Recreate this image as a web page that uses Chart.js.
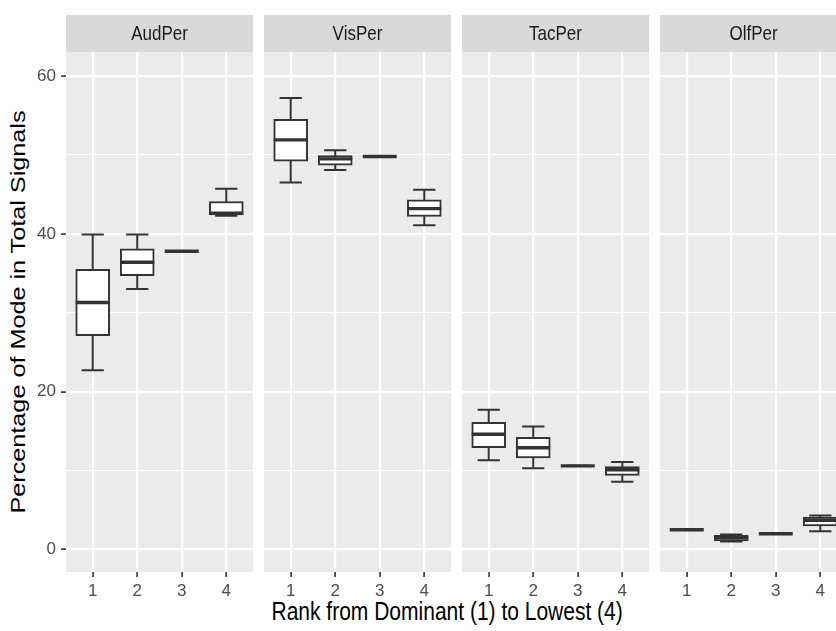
<!DOCTYPE html>
<html>
<head>
<meta charset="utf-8">
<script src="https://cdn.jsdelivr.net/npm/chart.js@4.4.0/dist/chart.umd.min.js"></script>
<style>
  html, body { margin: 0; padding: 0; background: #fff; overflow: hidden; width: 836px; height: 631px; }
  body { position: relative; font-family: "Liberation Sans", Arial, sans-serif; }
  canvas, .strip, .axis-title { position: absolute; }
  .strip { top: 15px; height: 37px; line-height: 37px; background: #D9D9D9; color: #1A1A1A; font-size: 17px; text-align: center; }
  .strip span { display: inline-block; transform: scaleY(1.15); }
  .axis-title { color: #000; font-size: 21px; white-space: nowrap; }
</style>
</head>
<body>
<div class="axis-title" id="xTitle">Rank from Dominant (1) to Lowest (4)</div>
<div class="axis-title" id="yTitle">Percentage of Mode in Total Signals</div>
<script>
// Facets and x categories
const panelNames = ['AudPer', 'VisPer', 'TacPer', 'OlfPer'];
const ranks = [1, 2, 3, 4];
const yTicks = [0, 10, 20, 30, 40, 50, 60];

// One row per rank: lower whisker, Q1, median, Q3, upper whisker
const audPer = [[22.7, 27.1, 31.3, 35.5, 39.9], [33.0, 34.7, 36.4, 38.1, 39.9], [37.8, 37.8, 37.8, 37.8, 37.8], [42.3, 42.4, 42.6, 44.1, 45.7]];
const visPer = [[46.5, 49.2, 51.9, 54.5, 57.2], [48.1, 48.7, 49.5, 49.9, 50.6], [49.8, 49.8, 49.8, 49.8, 49.8], [41.1, 42.2, 43.2, 44.3, 45.6]];
const tacPer = [[11.3, 12.9, 14.6, 16.1, 17.7], [10.3, 11.6, 12.9, 14.2, 15.6], [10.6, 10.6, 10.6, 10.6, 10.6], [8.6, 9.4, 10.1, 10.5, 11.1]];
const olfPer = [[2.5, 2.5, 2.5, 2.5, 2.5], [1.0, 1.1, 1.5, 1.8, 1.9], [2.0, 2.0, 2.0, 2.0, 2.0], [2.3, 3.0, 3.7, 4.1, 4.3]];
const panelStats = [audPer, visPer, tacPer, olfPer];

// layout of the panels on the page
const panelLeft = [66, 264, 462, 660];
const panelWidth = 187;
const panelTop = 52;
const panelHeight = 520;
const xAxisHeight = 45;
const yAxisWidth = 66;

const lineColor = '#333333';
const fontFamily = '"Liberation Sans", Arial, sans-serif';

// panel background, whiskers and medians
const boxPlugin = {
    id: 'boxes',
    beforeDraw(chart) {
        const a = chart.chartArea;
        const ctx = chart.ctx;
        ctx.save();
        ctx.fillStyle = '#EBEBEB';
        ctx.fillRect(a.left, a.top, a.right - a.left, a.bottom - a.top);
        ctx.restore();
    },
    beforeDatasetsDraw(chart) {
        const xs = chart.scales.x, ys = chart.scales.y;
        const ctx = chart.ctx;
        const capHalf = xs.getPixelForValue(1.25) - xs.getPixelForValue(1);
        ctx.save();
        ctx.strokeStyle = lineColor;
        ctx.lineWidth = 2;
        chart.data.datasets[0].stats.forEach((s, i) => {
            const x = xs.getPixelForValue(ranks[i]);
            const lo = ys.getPixelForValue(s[0]);
            const hi = ys.getPixelForValue(s[4]);
            ctx.beginPath();
            ctx.moveTo(x, lo); ctx.lineTo(x, hi);
            ctx.moveTo(x - capHalf, lo); ctx.lineTo(x + capHalf, lo);
            ctx.moveTo(x - capHalf, hi); ctx.lineTo(x + capHalf, hi);
            ctx.stroke();
        });
        ctx.restore();
    },
    afterDatasetsDraw(chart) {
        const xs = chart.scales.x, ys = chart.scales.y;
        const ctx = chart.ctx;
        const half = chart.data.datasets[0].barThickness / 2;
        ctx.save();
        ctx.strokeStyle = lineColor;
        ctx.lineWidth = 3.4;
        chart.data.datasets[0].stats.forEach((s, i) => {
            const x = xs.getPixelForValue(ranks[i]);
            const m = ys.getPixelForValue(s[2]);
            ctx.beginPath();
            ctx.moveTo(x - half, m); ctx.lineTo(x + half, m);
            ctx.stroke();
        });
        ctx.restore();
    }
};

function makePanel(p) {
    const first = p === 0;
    const canvas = document.createElement('canvas');
    const left = first ? 0 : panelLeft[p];
    const width = first ? yAxisWidth + panelWidth : panelWidth;
    canvas.width = width;
    canvas.height = panelHeight + xAxisHeight;
    canvas.style.left = left + 'px';
    canvas.style.top = panelTop + 'px';
    document.body.appendChild(canvas);

    const strip = document.createElement('div');
    strip.className = 'strip';
    strip.style.left = panelLeft[p] + 'px';
    strip.style.width = panelWidth + 'px';
    strip.innerHTML = '<span>' + panelNames[p] + '</span>';
    document.body.appendChild(strip);

    const stats = panelStats[p];
    new Chart(canvas.getContext('2d'), {
        type: 'bar',
        data: {
            datasets: [{
                data: stats.map((s, i) => ({ x: ranks[i], y: [s[1], s[3]] })),
                stats: stats,
                backgroundColor: '#FFFFFF',
                borderColor: lineColor,
                borderWidth: 2,
                borderSkipped: false,
                barThickness: 34
            }]
        },
        options: {
            responsive: false,
            animation: false,
            layout: { padding: 0 },
            plugins: { legend: { display: false }, tooltip: { enabled: false } },
            scales: {
                x: {
                    type: 'linear',
                    min: 0.4,
                    max: 4.6,
                    offset: false,
                    afterBuildTicks: axis => { axis.ticks = ranks.map(v => ({ value: v })); },
                    afterFit: axis => { axis.height = xAxisHeight; axis.paddingLeft = 0; axis.paddingRight = 0; },
                    border: { display: false },
                    grid: { offset: false, color: '#FFFFFF', lineWidth: 2.2, drawTicks: true, tickLength: 5, tickColor: lineColor, tickWidth: 1.6 },
                    ticks: { color: '#4D4D4D', padding: 4, font: { family: fontFamily, size: 17 }, maxRotation: 0 }
                },
                y: {
                    min: -2.85,
                    max: 63.04,
                    afterBuildTicks: axis => { axis.ticks = yTicks.map(v => ({ value: v })); },
                    afterFit: axis => { axis.width = first ? yAxisWidth : 0; axis.paddingTop = 0; axis.paddingBottom = 0; },
                    border: { display: false },
                    grid: {
                        color: '#FFFFFF',
                        lineWidth: c => (c.tick && c.tick.value % 20 === 0 ? 2.2 : 1),
                        drawTicks: first,
                        tickLength: 5,
                        tickWidth: 1.6,
                        tickColor: c => (c.tick && c.tick.value % 20 === 0 ? lineColor : 'rgba(0,0,0,0)')
                    },
                    ticks: {
                        display: first,
                        color: '#4D4D4D',
                        padding: 5,
                        font: { family: fontFamily, size: 17 },
                        callback: v => (v % 20 === 0 ? v : '')
                    }
                }
            }
        },
        plugins: [boxPlugin]
    });
}

panelNames.forEach((name, p) => makePanel(p));

// axis titles
const xTitle = document.getElementById('xTitle');
xTitle.style.left = (447 - xTitle.offsetWidth / 2) + 'px';
xTitle.style.top = (612 - xTitle.offsetHeight / 2) + 'px';
xTitle.style.transform = 'scaleY(1.2)';
const yTitle = document.getElementById('yTitle');
yTitle.style.left = (18 - yTitle.offsetWidth / 2) + 'px';
yTitle.style.top = (312 - yTitle.offsetHeight / 2) + 'px';
yTitle.style.transform = 'rotate(-90deg) scaleX(1.2)';
</script>
</body>
</html>
